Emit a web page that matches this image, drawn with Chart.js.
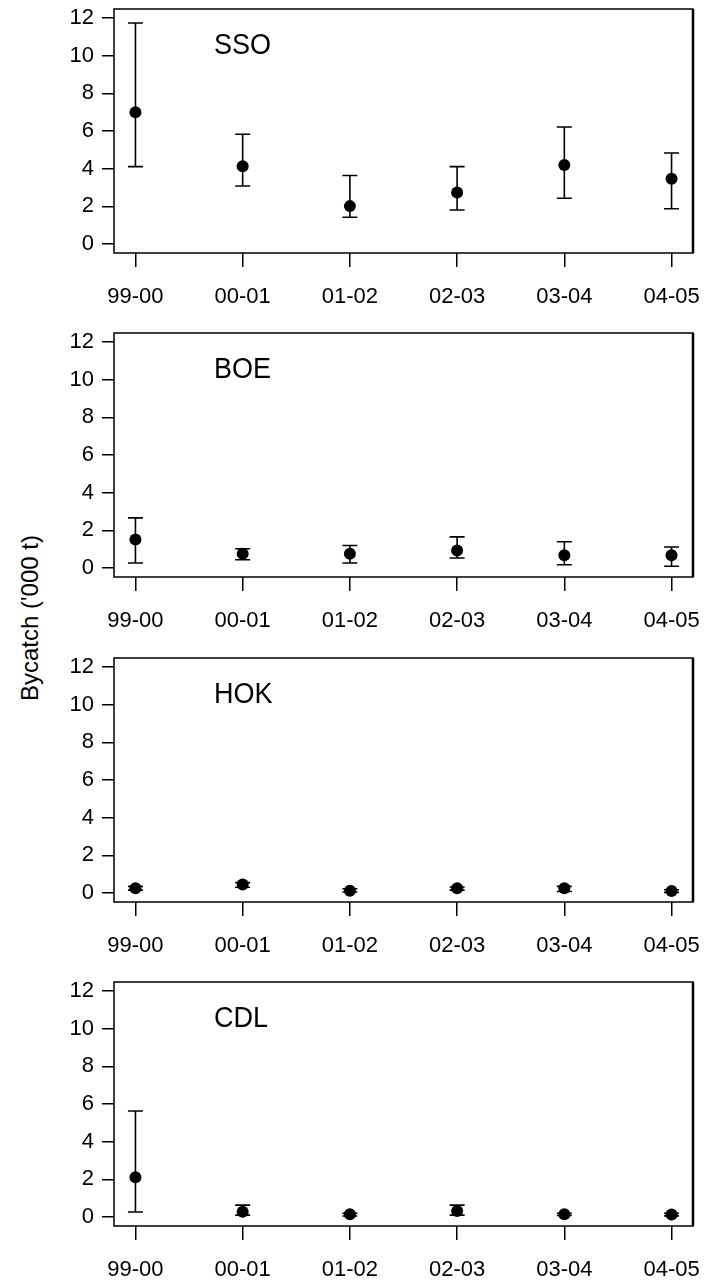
<!DOCTYPE html>
<html>
<head>
<meta charset="utf-8">
<script src="https://cdn.jsdelivr.net/npm/chart.js@4.4.1/dist/chart.umd.min.js"></script>
<style>
  html, body { margin: 0; padding: 0; background: #fff; width: 704px; height: 1283px; overflow: hidden; }
  .panel { position: absolute; left: 0; }
  #ytitle {
    position: absolute; left: 30px; top: 618px;
    transform: translate(-50%, -50%) rotate(-90deg);
    font-family: "Liberation Sans", Arial, sans-serif; font-size: 24px; color: #000;
    white-space: nowrap;
  }
</style>
</head>
<body>
<div id="ytitle">Bycatch ('000 t)</div>
<canvas id="p0" class="panel" width="704" height="324" style="top:0px"></canvas>
<canvas id="p1" class="panel" width="704" height="324" style="top:324px"></canvas>
<canvas id="p2" class="panel" width="704" height="324" style="top:649px"></canvas>
<canvas id="p3" class="panel" width="704" height="324" style="top:973px"></canvas>
<script>
// Fishing years on the x axis
const seasons = ['99-00', '00-01', '01-02', '02-03', '03-04', '04-05'];
const yTicks = [0, 2, 4, 6, 8, 10, 12];

// Estimated bycatch ('000 t) with lower / upper interval bounds
const ssoEst  = [7.00, 4.13, 2.01, 2.73, 4.20, 3.46];
const ssoLow  = [4.11, 3.08, 1.42, 1.80, 2.43, 1.87];
const ssoHigh = [11.74, 5.83, 3.64, 4.11, 6.21, 4.83];

const boeEst  = [1.51, 0.76, 0.76, 0.93, 0.67, 0.67];
const boeLow  = [0.26, 0.44, 0.26, 0.53, 0.17, 0.09];
const boeHigh = [2.66, 1.02, 1.19, 1.65, 1.39, 1.11];

const hokEst  = [0.25, 0.45, 0.12, 0.25, 0.25, 0.10];
const hokLow  = [0.15, 0.30, 0.05, 0.15, 0.08, 0.03];
const hokHigh = [0.35, 0.55, 0.22, 0.32, 0.35, 0.17];

const cdlEst  = [2.11, 0.28, 0.14, 0.32, 0.14, 0.13];
const cdlLow  = [0.26, 0.10, 0.05, 0.10, 0.08, 0.06];
const cdlHigh = [5.63, 0.63, 0.20, 0.63, 0.20, 0.20];

const species = ['SSO', 'BOE', 'HOK', 'CDL'];
const estimates = [ssoEst, boeEst, hokEst, cdlEst];
const lowers = [ssoLow, boeLow, hokLow, cdlLow];
const uppers = [ssoHigh, boeHigh, hokHigh, cdlHigh];

const FONT = '"Liberation Sans", Arial, sans-serif';

// Vertical interval lines with end caps, placed through the chart's scales
const errorBarPlugin = {
  id: 'errorBars',
  beforeDatasetsDraw(chart, args, opts) {
    const { ctx, scales: { x, y } } = chart;
    ctx.save();
    ctx.strokeStyle = '#000';
    ctx.lineWidth = 1.6;
    opts.lower.forEach((lo, i) => {
      const hi = opts.upper[i];
      const px = x.getPixelForValue(i);
      const pLo = y.getPixelForValue(lo);
      const pHi = y.getPixelForValue(hi);
      ctx.beginPath();
      ctx.moveTo(px, pLo); ctx.lineTo(px, pHi);
      ctx.moveTo(px - 7.5, pLo); ctx.lineTo(px + 7.5, pLo);
      ctx.moveTo(px - 7.5, pHi); ctx.lineTo(px + 7.5, pHi);
      ctx.stroke();
    });
    ctx.restore();
  }
};

// Frame around the plotting region plus the species name
const framePlugin = {
  id: 'frame',
  afterDraw(chart, args, opts) {
    const { ctx, chartArea: a } = chart;
    ctx.save();
    ctx.strokeStyle = '#000';
    ctx.lineWidth = 1.5;
    ctx.strokeRect(a.left, a.top, a.right - a.left, a.bottom - a.top);
    ctx.lineWidth = 2.5;
    ctx.beginPath();
    ctx.moveTo(a.right, a.top); ctx.lineTo(a.right, a.bottom);
    ctx.stroke();
    ctx.fillStyle = '#000';
    ctx.font = '30px ' + FONT;
    ctx.textBaseline = 'alphabetic';
    ctx.translate(a.left + 100, a.top + 45);
    ctx.scale(0.9, 1);
    ctx.fillText(opts.title, 0, 0);
    ctx.restore();
  }
};

species.forEach((name, k) => {
  const est = estimates[k];
  new Chart(document.getElementById('p' + k), {
    type: 'scatter',
    data: {
      datasets: [{
        data: est.map((v, i) => ({ x: i, y: v })),
        backgroundColor: '#000',
        borderColor: '#000',
        borderWidth: 0,
        pointRadius: 6,
        pointHoverRadius: 6,
        showLine: false
      }]
    },
    options: {
      responsive: false,
      animation: false,
      devicePixelRatio: 1,
      events: [],
      layout: { padding: { left: 0, right: 11, top: 9, bottom: 0 } },
      plugins: {
        legend: { display: false },
        tooltip: { enabled: false },
        errorBars: { lower: lowers[k], upper: uppers[k] },
        frame: { title: name }
      },
      scales: {
        x: {
          type: 'linear',
          min: -0.2,
          max: 5.2,
          afterBuildTicks: s => { s.ticks = seasons.map((_, i) => ({ value: i })); },
          afterFit: s => { s.height = 71; s.paddingLeft = 0; s.paddingRight = 0; },
          border: { display: false },
          grid: { drawOnChartArea: false, drawTicks: true, tickLength: 14, color: '#000', lineWidth: 1.5 },
          ticks: {
            autoSkip: false, maxRotation: 0, padding: 17, color: '#000',
            font: { family: FONT, size: 22 },
            callback: v => seasons[v]
          }
        },
        y: {
          min: -0.48,
          max: 12.48,
          afterBuildTicks: s => { s.ticks = yTicks.map(v => ({ value: v })); },
          afterFit: s => { s.width = 114; s.paddingTop = 0; s.paddingBottom = 0; },
          border: { display: false },
          grid: { drawOnChartArea: false, drawTicks: true, tickLength: 12, color: '#000', lineWidth: 1.5 },
          ticks: {
            padding: 8, color: '#000',
            font: { family: FONT, size: 22 }
          }
        }
      }
    },
    plugins: [errorBarPlugin, framePlugin]
  });
});
</script>
</body>
</html>
